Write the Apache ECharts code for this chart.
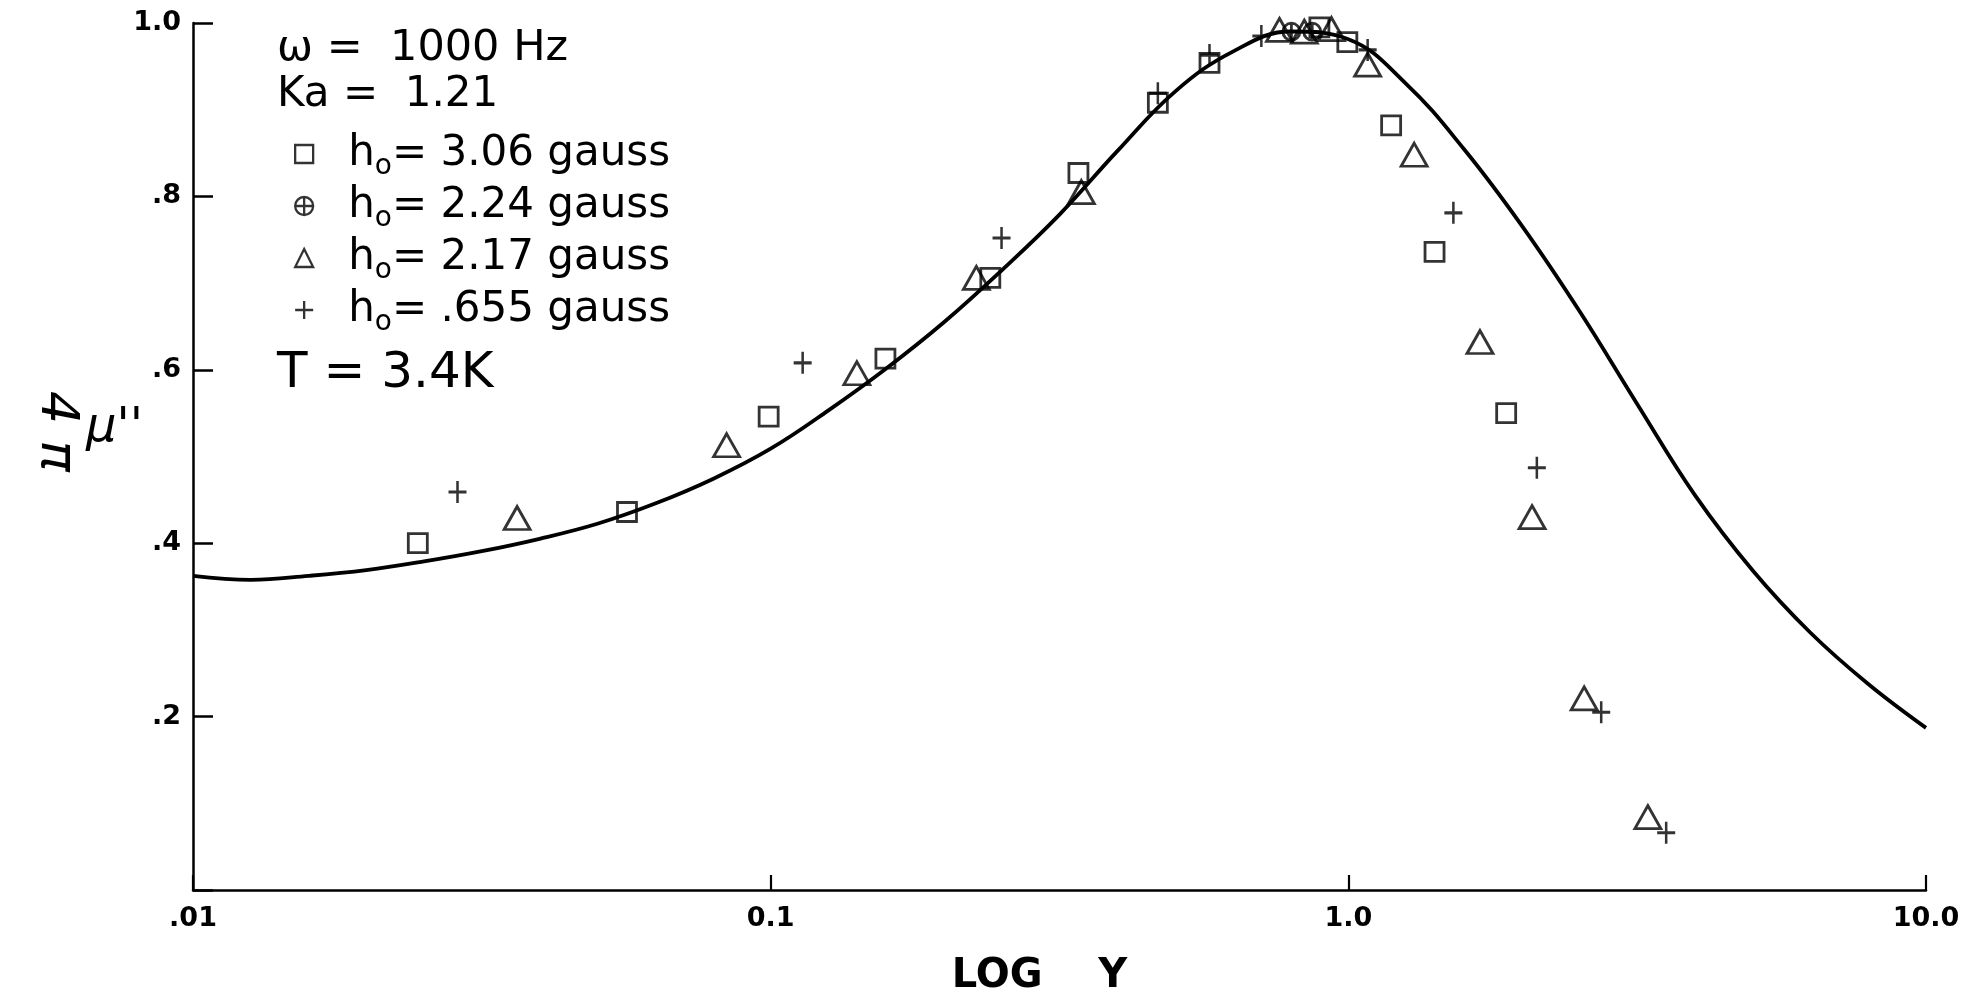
<!DOCTYPE html>
<html>
<head>
<meta charset="utf-8">
<script src="https://cdn.jsdelivr.net/npm/echarts@6/dist/echarts.min.js"></script>
<style>
  html, body { margin: 0; padding: 0; background: #fff; }
  #chart { width: 1979px; height: 995px; }
</style>
</head>
<body>
<div id="chart"></div>
<script>
// ---- data ----
// theory curve, read every 0.1 decade
const curveX = [0.01, 0.01259, 0.01585, 0.01995, 0.02512, 0.03162, 0.03981, 0.05012, 0.0631, 0.07943, 0.1, 0.1259, 0.1585, 0.1995, 0.2512, 0.3162, 0.3981, 0.5012, 0.631, 0.7943, 1.0, 1.259, 1.585, 1.995, 2.512, 3.162, 3.981, 5.012, 6.31, 7.943, 10];
const curveY = [0.3622, 0.3577, 0.3623, 0.3690, 0.3790, 0.3908, 0.4051, 0.4224, 0.4457, 0.4741, 0.5090, 0.5532, 0.6015, 0.6548, 0.7148, 0.7790, 0.8522, 0.9209, 0.9670, 0.9902, 0.9813, 0.9298, 0.8547, 0.7666, 0.6678, 0.5606, 0.4554, 0.3685, 0.2967, 0.2376, 0.187];

const squareX = [0.0245, 0.0564, 0.0992, 0.158, 0.24, 0.341, 0.468, 0.575, 0.891, 0.996, 1.186, 1.41, 1.876];
const squareY = [0.400, 0.436, 0.546, 0.613, 0.706, 0.827, 0.908, 0.954, 0.995, 0.978, 0.882, 0.736, 0.550];

const circlePlusX = [0.797, 0.866];
const circlePlusY = [0.990, 0.990];

const triangleX = [0.0364, 0.0839, 0.141, 0.227, 0.345, 0.760, 0.839, 0.935, 1.08, 1.30, 1.69, 2.08, 2.56, 3.30];
const triangleY = [0.429, 0.513, 0.596, 0.706, 0.805, 0.992, 0.990, 0.993, 0.952, 0.848, 0.632, 0.430, 0.221, 0.084];

const plusX = [0.0287, 0.1136, 0.251, 0.468, 0.575, 0.707, 1.08, 1.52, 2.12, 2.74, 3.55];
const plusY = [0.459, 0.608, 0.752, 0.919, 0.963, 0.985, 0.969, 0.781, 0.487, 0.205, 0.066];

const seriesNames = ['h₀= 3.06 gauss', 'h₀= 2.24 gauss', 'h₀= 2.17 gauss', 'h₀= .655 gauss'];
const xTickValues = [0.01, 0.1, 1, 10];
const xTickLabels = ['.01', '0.1', '1.0', '10.0'];
const yTickValues = [0.2, 0.4, 0.6, 0.8, 1.0];
const yTickLabels = ['.2', '.4', '.6', '.8', '1.0'];
const annotations = ['ω =  1000 Hz', 'Ka =  1.21', 'T = 3.4K'];
const xAxisTitle = 'LOG    Y';
const yAxisTitle = "μ''";
const yAxisPrefix = '4 π';

// ---- build ----
const zip = (xs, ys) => xs.map((x, i) => [x, ys[i]]);
const FONT = '"DejaVu Sans", "Liberation Sans", sans-serif';
const hollow = { color: 'rgba(0,0,0,0)', borderColor: '#000', borderWidth: 2.8 };
const PLUS = 'path://M0,10H20M10,0V20';
const CPLUS = 'path://M0,10A10,10 0 1,0 20,10A10,10 0 1,0 0,10ZM0,10H20M10,0V20';

const chart = echarts.init(document.getElementById('chart'), null, { renderer: 'canvas' });

const option = {
  backgroundColor: '#fff',
  animation: false,
  grid: { left: 193, right: 53, top: 23, bottom: 105, containLabel: false, outerBoundsMode: 'none' },
  xAxis: {
    type: 'log', logBase: 10, min: 0.01, max: 10,
    name: xAxisTitle, nameLocation: 'middle', nameGap: 67,
    nameTextStyle: { fontFamily: FONT, fontSize: 40, fontWeight: 'bold', color: '#000', padding: [0, 40, 0, 0] },
    axisLine: { lineStyle: { color: '#000', width: 2.5 } },
    axisTick: { inside: true, length: 15, lineStyle: { color: '#000', width: 2.2 } },
    minorTick: { show: false },
    splitLine: { show: false },
    axisLabel: {
      color: '#000', fontFamily: FONT, fontSize: 27, fontWeight: 'bold', margin: 15,
      formatter: v => { const i = xTickValues.findIndex(t => Math.abs(Math.log10(t) - Math.log10(v)) < 1e-6); return i >= 0 ? xTickLabels[i] : ''; }
    }
  },
  yAxis: {
    type: 'value', min: 0, max: 1, interval: 0.2,
    axisLine: { lineStyle: { color: '#000', width: 2.5 } },
    axisTick: { inside: true, length: 20, lineStyle: { color: '#000', width: 2.5 } },
    splitLine: { show: false },
    axisLabel: {
      color: '#000', fontFamily: FONT, fontSize: 27, fontWeight: 'bold', margin: 12,
      formatter: v => { const i = yTickValues.findIndex(t => Math.abs(t - v) < 1e-6); return i >= 0 ? yTickLabels[i] : ''; }
    }
  },
  legend: {
    orient: 'vertical', left: 294, top: 133, padding: 0,
    itemWidth: 18, itemHeight: 18, itemGap: 4,
    selectedMode: false,
    itemStyle: { color: 'rgba(0,0,0,0)', borderColor: '#000', borderWidth: 2.3 },
    data: seriesNames,
    formatter: name => '{h|h}{o|o}{t|' + name.replace('h₀', '') + '}',
    textStyle: {
      color: '#000',
      rich: {
        h: { fontFamily: FONT, fontSize: 42, padding: [0, 0, 0, 30], verticalAlign: 'middle' },
        o: { fontFamily: FONT, fontSize: 28, padding: [26, 0, 0, 0], verticalAlign: 'middle' },
        t: { fontFamily: FONT, fontSize: 42, verticalAlign: 'middle' }
      }
    }
  },
  graphic: [
    { type: 'text', left: 277, top: 27, style: { text: annotations[0], font: '43px ' + FONT, fill: '#000' } },
    { type: 'text', left: 277, top: 74, style: { text: annotations[1], font: '42px ' + FONT, fill: '#000' } },
    { type: 'text', left: 277, top: 349, style: { text: annotations[2], font: '50px ' + FONT, fill: '#000' } },
    { type: 'text', x: 143, y: 429, style: { text: yAxisTitle, align: 'right', verticalAlign: 'middle', font: 'italic 48px ' + FONT, fill: '#000' } },
    { type: 'text', x: 82, y: 391, rotation: -Math.PI / 2, style: { text: yAxisPrefix, font: 'italic 52px ' + FONT, fill: '#000' } }
  ],
  series: [
    {
      name: 'curve', type: 'line', data: zip(curveX, curveY), smooth: 0.4,
      showSymbol: false, symbol: 'none', lineStyle: { color: '#000', width: 3.8 }, z: 1, silent: true
    },
    { name: seriesNames[0], type: 'scatter', data: zip(squareX, squareY), symbol: 'rect', symbolSize: [19, 19], itemStyle: hollow, z: 3 },
    { name: seriesNames[1], type: 'scatter', data: zip(circlePlusX, circlePlusY), symbol: CPLUS, symbolSize: 17, itemStyle: hollow, z: 3 },
    { name: seriesNames[2], type: 'scatter', data: zip(triangleX, triangleY), symbol: 'triangle', symbolSize: [26, 23], itemStyle: hollow, z: 3 },
    { name: seriesNames[3], type: 'scatter', data: zip(plusX, plusY), symbol: PLUS, symbolSize: [18, 22], itemStyle: hollow, z: 3 }
  ]
};
chart.setOption(option);
</script>
</body>
</html>
